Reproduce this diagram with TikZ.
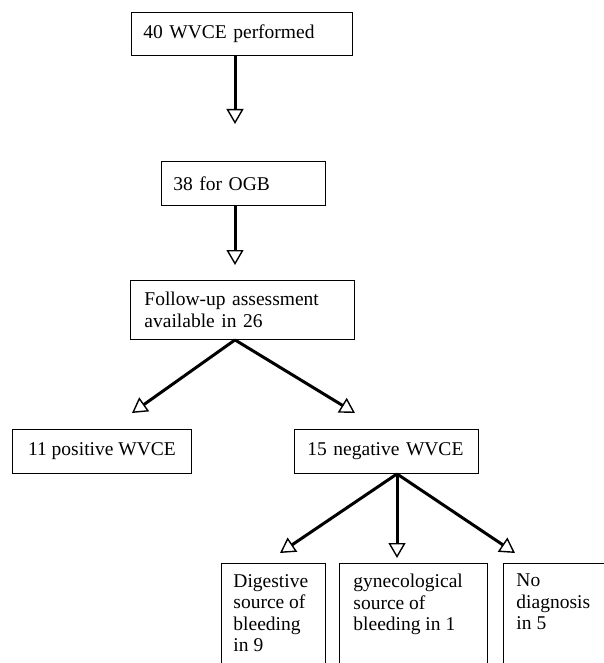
\documentclass[tikz,border=0pt]{standalone}
\usepackage{fontspec}
\setmainfont{Liberation Serif}
\usetikzlibrary{arrows.meta}
\begin{document}
\begin{tikzpicture}[x=1pt,y=-1pt,
  txt/.style={font=\fontsize{19.5pt}{21.5pt}\selectfont},
  box/.style={txt, draw=black, line width=0.9pt, anchor=north west, align=left, inner ysep=0pt},
  tallbox/.style={txt, draw=black, line width=0.9pt, anchor=north west, inner ysep=10.7pt},
  arr/.style={line width=3pt, -{Triangle[open,length=15pt,width=17pt,line width=1.4pt]}}]
\useasboundingbox (0,0) rectangle (604,663);
\clip (0,0) rectangle (604,663);
\fill[white] (0,0) rectangle (604,663);

\node[box, minimum width=221pt, minimum height=43pt, text width=197pt, inner xsep=12pt] (b1) at (131,12) {40 WVCE performed};
\node[box, minimum width=164pt, minimum height=44pt, text width=140pt, inner xsep=12pt] (b2) at (161,161) {38 for OGB};
\node[box, minimum width=224pt, minimum height=59pt, text width=196pt, inner xsep=14pt] (b3) at (130,280) {Follow-up assessment\\available in 26};
\node[box, align=center, minimum width=179pt, minimum height=44pt, inner xsep=15pt] (b4) at (12,429) {11 positive WVCE};
\node[box, minimum width=184pt, minimum height=44pt, text width=158pt, inner xsep=13pt] (b5) at (294,429) {15 negative WVCE};

\node[tallbox, inner xsep=12pt] (c1) at (221,563) {\parbox[t][110pt][t]{80pt}{\raggedright Digestive\\source of\\bleeding\\in 9}};
\node[tallbox, inner xsep=14pt] (c2) at (339,563) {\parbox[t][110pt][t]{120pt}{\raggedright gynecological\\source of\\bleeding in 1}};
\node[tallbox, inner xsep=13pt] (c3) at (503,563) {\parbox[t][110pt][t]{120pt}{\raggedright No\\diagnosis\\in 5}};

\coordinate (t1) at (235,124);
\coordinate (t2) at (235,265);
\coordinate (tL) at (132,413);
\coordinate (tR) at (355,413);
\coordinate (u1) at (280,553);
\coordinate (u2) at (397,558);
\coordinate (u3) at (515,553);

\draw[arr] (t1 |- b1.south) -- (t1);
\draw[arr] (t2 |- b2.south) -- (t2);
\draw[arr] (t2 |- b3.south) -- (tL);
\draw[arr] (t2 |- b3.south) -- (tR);
\draw[arr] (u2 |- b5.south) -- (u1);
\draw[arr] (u2 |- b5.south) -- (u2);
\draw[arr] (u2 |- b5.south) -- (u3);
\end{tikzpicture}
\end{document}
